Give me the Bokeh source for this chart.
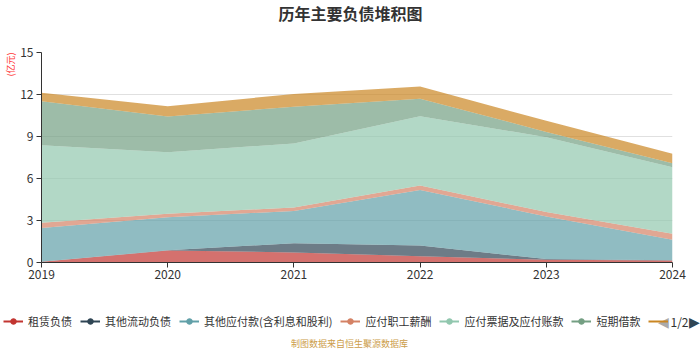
from bokeh.plotting import figure
from bokeh.layouts import column
from bokeh.models import (ColumnDataSource, Range1d, FixedTicker, Legend,
                          LegendItem, Label, Title)
from bokeh.embed import file_html
from bokeh.resources import INLINE

# ---- data (亿元) ----
years = [2019, 2020, 2021, 2022, 2023, 2024]
series_names = ["租赁负债", "其他流动负债", "其他应付款(含利息和股利)", "应付职工薪酬",
                "应付票据及应付账款", "短期借款", "应付债券"]
zulin_fuzhai = [0.05, 0.86, 0.72, 0.45, 0.20, 0.14]
qita_liudong = [0.00, 0.02, 0.66, 0.76, 0.05, 0.02]
qita_yingfu = [2.41, 2.35, 2.30, 3.97, 3.04, 1.46]
zhigong_xinchou = [0.38, 0.25, 0.25, 0.32, 0.31, 0.43]
piaoju_zhangkuan = [5.54, 4.40, 4.57, 4.95, 5.35, 4.75]
duanqi_jiekuan = [3.13, 2.55, 2.62, 1.25, 0.38, 0.29]
seventh_series = [0.61, 0.73, 0.92, 0.87, 0.79, 0.67]
y_ticks = [0, 3, 6, 9, 12, 15]

colors = ["#c23531", "#2f4554", "#61a0a8", "#d48265", "#91c7ae", "#749f83", "#ca8622"]
FONT = "Noto Sans CJK SC"

keys = ["s0", "s1", "s2", "s3", "s4", "s5", "s6"]
src = ColumnDataSource(dict(year=years, s0=zulin_fuzhai, s1=qita_liudong, s2=qita_yingfu,
                            s3=zhigong_xinchou, s4=piaoju_zhangkuan, s5=duanqi_jiekuan,
                            s6=seventh_series))


def strip(h):
    f = figure(width=700, height=h, output_backend="svg", toolbar_location=None,
               x_range=Range1d(0, 700), y_range=Range1d(0, h), min_border=0,
               x_axis_location=None, y_axis_location=None)
    f.grid.visible = False
    f.outline_line_color = None
    return f


# ---------------- title strip ----------------
top = strip(40)
top.add_layout(Label(x=350, y=28, text="历年主要负债堆积图", text_font=FONT,
                     text_font_size="16px", text_font_style="bold", text_color="#333333",
                     text_align="center", text_baseline="middle"))

# ---------------- main chart ----------------
p = figure(width=700, height=250, output_backend="svg", toolbar_location=None,
           x_range=Range1d(2019, 2024), y_range=Range1d(0, 15),
           min_border_left=41, min_border_right=28, min_border_top=12,
           min_border_bottom=28)
p.outline_line_color = None

p.varea_stack(stackers=keys, x="year", color=colors, fill_alpha=0.7, source=src)

p.xaxis.ticker = FixedTicker(ticks=years)
p.yaxis.ticker = FixedTicker(ticks=y_ticks)
for ax in (p.xaxis[0], p.yaxis[0]):
    ax.axis_line_color = "#333333"
    ax.major_tick_line_color = "#333333"
    ax.minor_tick_line_color = None
    ax.major_tick_out = 5
    ax.major_tick_in = 0
    ax.major_label_text_font = FONT
    ax.major_label_text_font_size = "12px"
    ax.major_label_text_color = "#333333"
p.xaxis.major_label_standoff = 2
p.yaxis.major_label_standoff = 3
p.xgrid.grid_line_color = None
p.ygrid.grid_line_color = "#e0e0e0"

p.add_layout(Title(text="(亿元)", align="right", text_font=FONT, text_font_size="9px",
                   text_font_style="normal", text_color="#ff3333", standoff=2), "left")

# ---------------- legend strip ----------------
lg = strip(60)
items = []
for i, (name, c) in enumerate(zip(series_names, colors)):
    lr = lg.line(x=[0], y=[float("nan")], line_color=c, line_width=2)
    if i < len(series_names) - 1:
        sr = lg.scatter(x=[0], y=[float("nan")], marker="circle", size=10,
                        fill_color=c, line_color=c)
        items.append(LegendItem(label=name, renderers=[lr, sr]))
    else:
        # truncated by the legend pager, as in the reference
        items.append(LegendItem(label=" ", renderers=[lr]))
legend = Legend(items=items, orientation="horizontal", location=(3, 21),
                label_text_font=FONT, label_text_font_size="11px",
                label_text_color="#333333", glyph_width=20, glyph_height=14,
                spacing=8, padding=0, margin=0, label_standoff=5,
                border_line_alpha=0, background_fill_alpha=0)
lg.add_layout(legend, "center")

lg.add_layout(Label(x=349, y=7, text="制图数据来自恒生聚源数据库",
                    text_font=FONT, text_font_size="9px", text_color="#cc9d4a",
                    text_align="center", text_baseline="middle"))
lg.add_layout(Label(x=663, y=29, text="◀", text_font="DejaVu Sans", text_font_size="14px",
                    text_color="#aaaaaa", text_align="center", text_baseline="middle"))
lg.add_layout(Label(x=679, y=29, text="1/2", text_font=FONT, text_font_size="12px",
                    text_color="#333333", text_align="center", text_baseline="middle"))
lg.add_layout(Label(x=694, y=29, text="▶", text_font="DejaVu Sans", text_font_size="14px",
                    text_color="#2f4554", text_align="center", text_baseline="middle"))

layout = column(top, column(p, spacing=0), lg, spacing=0)
open("out.html", "w").write(file_html(layout, INLINE))
